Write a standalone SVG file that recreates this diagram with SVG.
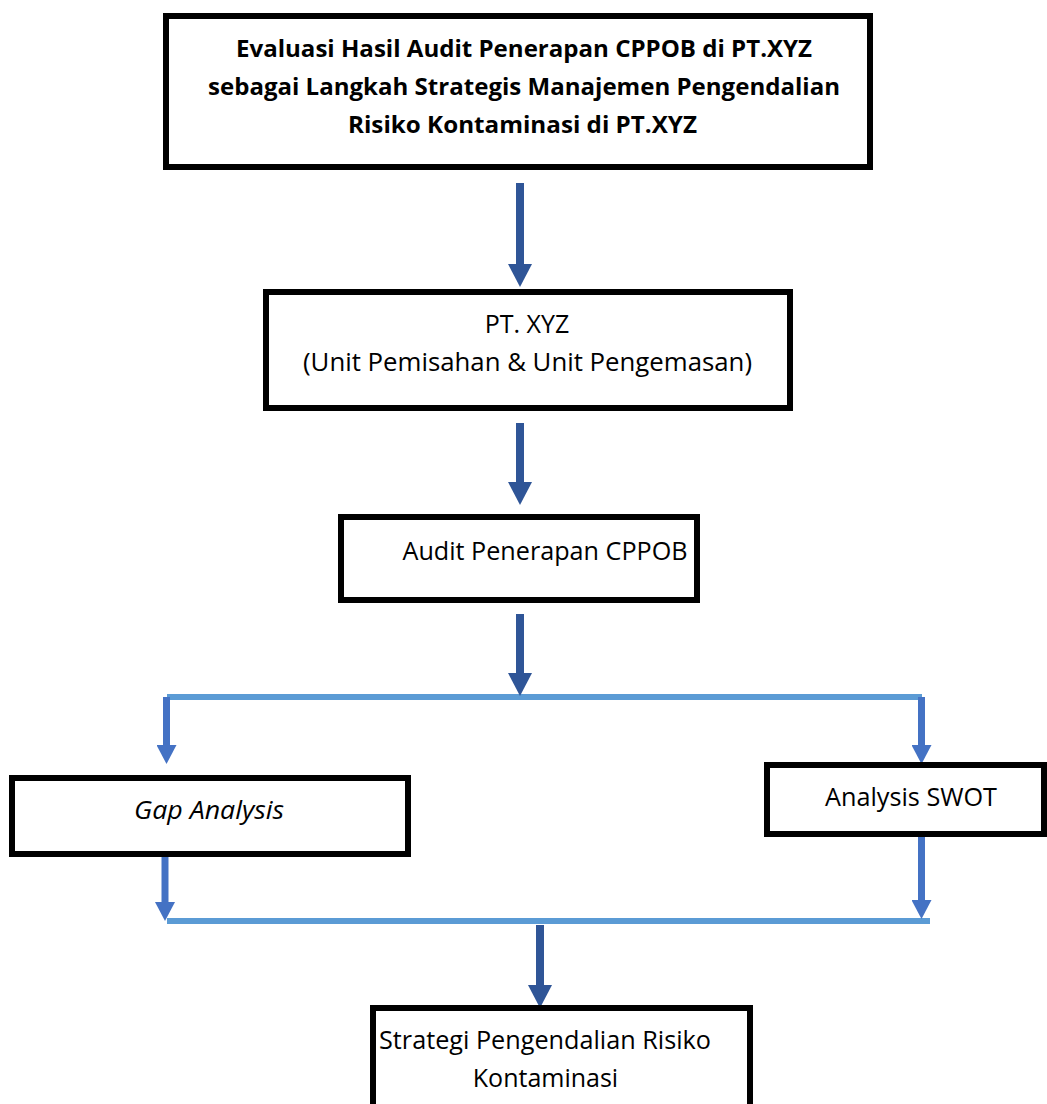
<svg xmlns="http://www.w3.org/2000/svg" width="1047" height="1104" viewBox="0 0 1047 1104">
<style>
.box{fill:#fff;stroke:#000;stroke-width:6}
.t{font-family:"Open Sans","Noto Sans",sans-serif;font-size:25px;fill:#000;text-anchor:middle}
.b{font-weight:bold;font-size:24px}
.i{font-style:italic}
.dk{stroke:#2F5597;stroke-width:8;fill:none}
.md{stroke:#4472C4;stroke-width:7;fill:none}
.hl{stroke:#5B9BD5;stroke-width:6;fill:none}
</style>
<defs>
<marker id="ahd" markerUnits="userSpaceOnUse" viewBox="0 0 23 24" markerWidth="23" markerHeight="24" refX="0" refY="12" orient="auto">
<path d="M0,0 L23,12 L0,24 Z" fill="#2F5597"/>
</marker>
<marker id="ahm" markerUnits="userSpaceOnUse" viewBox="0 0 19 20" markerWidth="19" markerHeight="20" refX="0" refY="10" orient="auto">
<path d="M0,0 L19,10 L0,20 Z" fill="#4472C4"/>
</marker>
</defs>
<rect width="1047" height="1104" fill="#fff"/>
<g id="connectors">
<line class="dk" x1="520" y1="183" x2="520" y2="264" marker-end="url(#ahd)"/>
<line class="dk" x1="520" y1="423" x2="520" y2="482" marker-end="url(#ahd)"/>
<line class="hl" x1="167" y1="697" x2="922" y2="697"/>
<line class="dk" x1="520" y1="614" x2="520" y2="673" marker-end="url(#ahd)"/>
<line class="md" x1="166.5" y1="697" x2="166.5" y2="745" marker-end="url(#ahm)"/>
<line class="md" x1="921.5" y1="697" x2="921.5" y2="745" marker-end="url(#ahm)"/>
<line class="hl" x1="167" y1="921" x2="930" y2="921"/>
<line class="md" x1="165" y1="857" x2="165" y2="902" marker-end="url(#ahm)"/>
<line class="md" x1="921.5" y1="837" x2="921.5" y2="900" marker-end="url(#ahm)"/>
<line class="dk" x1="540" y1="925" x2="540" y2="985" marker-end="url(#ahd)"/>
</g>
<g id="node-evaluasi">
<rect class="box" x="166" y="16" width="704" height="151"/>
<text class="t b" x="524" y="57" textLength="576" lengthAdjust="spacingAndGlyphs">Evaluasi Hasil Audit Penerapan CPPOB di PT.XYZ</text>
<text class="t b" x="524" y="95" textLength="632" lengthAdjust="spacingAndGlyphs">sebagai Langkah Strategis Manajemen Pengendalian</text>
<text class="t b" x="522.5" y="133" textLength="349" lengthAdjust="spacingAndGlyphs">Risiko Kontaminasi di PT.XYZ</text>
</g>
<g id="node-ptxyz">
<rect class="box" x="266" y="292" width="524" height="116"/>
<text class="t" x="527" y="333">PT. XYZ</text>
<text class="t" x="527.5" y="371" textLength="449" lengthAdjust="spacingAndGlyphs">(Unit Pemisahan &amp; Unit Pengemasan)</text>
</g>
<g id="node-audit">
<rect class="box" x="341" y="517" width="356" height="83"/>
<text class="t" x="545" y="560" textLength="285" lengthAdjust="spacingAndGlyphs">Audit Penerapan CPPOB</text>
</g>
<g id="node-gap">
<rect class="box" x="12" y="778" width="396" height="76"/>
<text class="t i" x="209" y="819" textLength="150" lengthAdjust="spacingAndGlyphs">Gap Analysis</text>
</g>
<g id="node-swot">
<rect class="box" x="767" y="765" width="277" height="69"/>
<text class="t" x="911" y="806" textLength="172" lengthAdjust="spacingAndGlyphs">Analysis SWOT</text>
</g>
<g id="node-strategi">
<rect class="box" x="373" y="1008" width="377" height="110"/>
<text class="t" x="545" y="1049" textLength="332" lengthAdjust="spacingAndGlyphs">Strategi Pengendalian Risiko</text>
<text class="t" x="545.5" y="1087">Kontaminasi</text>
</g>
</svg>
